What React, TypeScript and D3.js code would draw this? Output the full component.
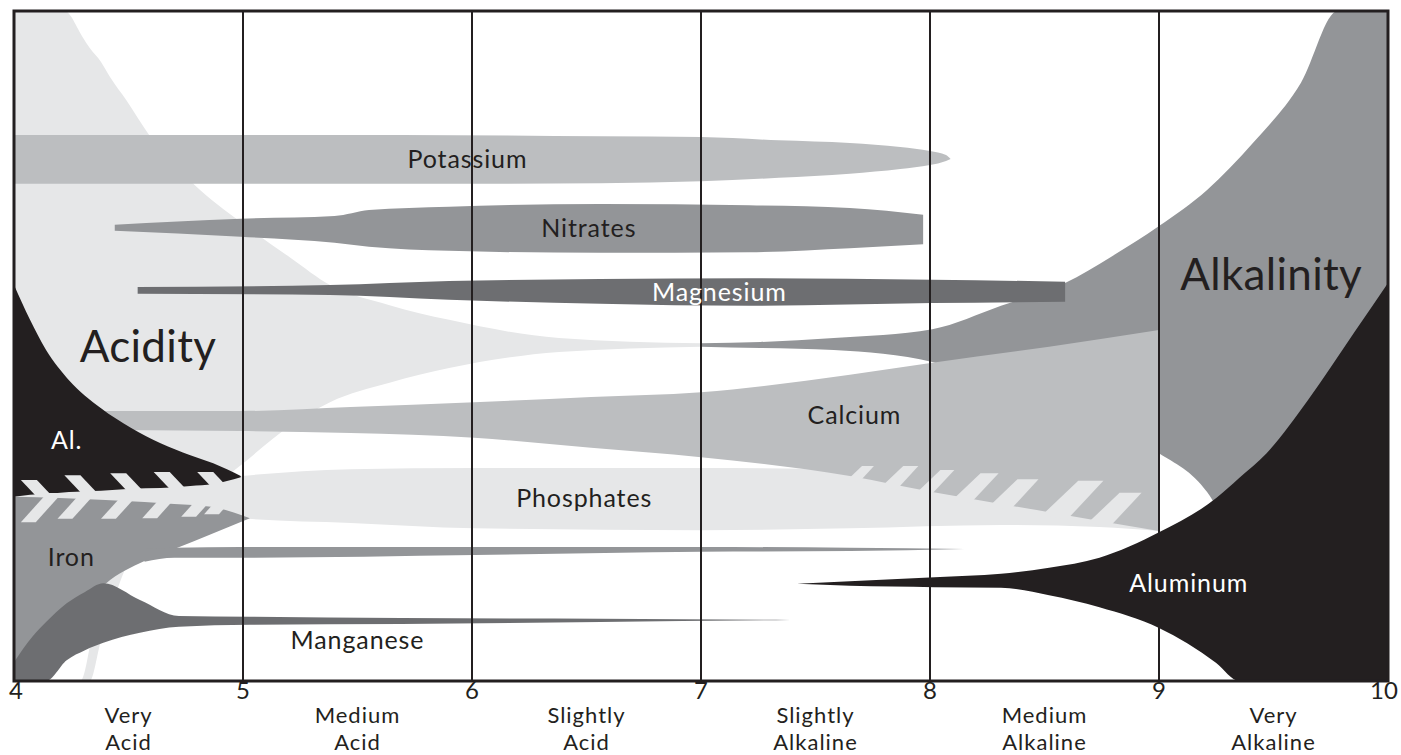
import * as d3 from "d3";

// Soil pH vs nutrient availability. Each band row: [pH, upper edge, lower edge]
// on a 0-100 vertical availability scale (100 = top of chart).
type Row = [number, number, number];

const acidity: Row[] = [
  [4.0, 100, 0], [4.22, 100, 0], [4.3, 96.1, 0], [4.33, 94.5, 0], [4.38, 92.4, 6.1],
  [4.42, 90.1, 10.3], [4.49, 86.7, 17.0], [4.59, 81.5, 20.3], [4.79, 74.0, 26.7],
  [4.99, 68.5, 32.2], [5.21, 63.1, 38.2], [5.38, 59.1, 41.6], [5.64, 56.1, 44.5],
  [5.9, 53.9, 46.7], [6.38, 51.2, 49.1], [7.0, 50.4, 49.9],
];

// white gap under the manganese lobe, bottom-left corner
const acidityGap: Row[] = [
  [4.14, 1, 0], [4.23, 4, 0], [4.29, 5, 0], [4.33, 6, 5.0],
];

const alkalinity: Row[] = [
  [7.0, 50.4, 49.9], [7.26, 50.6, 49.7], [7.58, 51.2, 49.4], [8.01, 52.5, 47.6],
  [8.31, 56.0, 44.2], [8.59, 59.4, 40.4], [8.79, 63.3, 37.5], [9.0, 67.9, 34.0],
  [9.21, 73.3, 28.2], [9.41, 80.3, 15.1], [9.62, 89.3, 0], [9.78, 100, 0], [10.0, 100, 0],
];

const potassium: Row[] = [
  [4.0, 81.5, 74.2], [5.69, 81.5, 74.2], [6.56, 81.3, 74.3], [7.0, 81.2, 74.6],
  [7.34, 80.7, 75.1], [7.65, 80.3, 75.7], [7.87, 79.7, 76.4], [8.0, 79.1, 77.0],
  [8.07, 78.5, 77.6], [8.09, 77.9, 77.9],
];

const nitrates: Row[] = [
  [4.44, 68.1, 67.2], [4.99, 69.0, 66.3], [5.4, 69.4, 65.4], [5.55, 70.3, 64.8],
  [5.9, 70.8, 64.2], [6.56, 71.2, 63.9], [7.21, 71.0, 64.0], [7.65, 70.6, 64.6],
  [7.97, 69.6, 65.2],
];

const magnesium: Row[] = [
  [4.54, 58.8, 57.8], [5.38, 59.1, 57.6], [5.9, 59.7, 56.9], [6.56, 60.0, 56.3],
  [7.21, 60.1, 56.0], [8.01, 59.9, 56.4], [8.59, 59.6, 56.6],
];

const calcium: Row[] = [
  [4.2, 40.3, 37.5], [4.99, 40.3, 37.3], [5.47, 40.9, 37.0], [6.01, 41.6, 36.3],
  [6.52, 42.4, 34.8], [7.0, 43.1, 33.4], [7.65, 45.7, 30.6], [8.01, 47.5, 28.2],
  [8.52, 49.9, 25.2], [9.0, 52.4, 22.4],
];

const phosphates: Row[] = [
  [4.0, 29.3, 27.0], [4.38, 29.3, 26.6], [4.81, 30.0, 25.5], [4.99, 30.6, 24.3],
  [5.47, 31.6, 23.6], [6.01, 31.8, 22.8], [7.0, 31.8, 22.5], [7.65, 31.6, 22.8],
  [8.31, 30.3, 23.3], [8.74, 28.5, 23.0], [9.0, 27.0, 22.4],
];

const aluminumAcid: Row[] = [
  [4.0, 59.1, 27.5], [4.07, 53.9, 27.8], [4.14, 49.4, 27.9], [4.24, 44.9, 28.2],
  [4.38, 40.7, 28.4], [4.51, 37.8, 28.7], [4.64, 35.5, 28.8], [4.77, 33.7, 29.1],
  [4.87, 32.5, 29.4], [4.99, 30.6, 30.4],
];

const iron: Row[] = [
  [4.0, 27.5, 0], [4.2, 27.3, 6.1], [4.4, 27.0, 14.5], [4.57, 26.7, 17.9],
  [4.7, 26.4, 19.7], [4.86, 26.0, 21.9], [5.03, 24.3, 24.3],
];

const ironTail: Row[] = [
  [4.57, 19.7, 17.8], [4.7, 19.9, 18.4], [4.99, 20.0, 18.4], [6.01, 20.0, 18.8],
  [7.0, 20.0, 19.3], [7.65, 19.9, 19.4], [8.15, 19.7, 19.7],
];

const manganese: Row[] = [
  [4.0, 2.8, 0], [4.08, 6.6, 0], [4.14, 8.8, 0], [4.23, 11.6, 3.1], [4.31, 13.3, 4.6],
  [4.39, 14.6, 5.7], [4.55, 12.1, 7.2], [4.72, 9.7, 8.1], [5.03, 9.6, 8.4],
  [5.69, 9.4, 8.5], [6.56, 9.3, 8.8], [7.39, 9.1, 9.1],
];

const aluminumAlk: Row[] = [
  [7.42, 14.5, 14.5], [7.65, 14.9, 14.2], [8.02, 15.5, 14.0], [8.31, 16.0, 13.9],
  [8.52, 16.9, 12.8], [8.74, 18.4, 11.0], [9.0, 22.2, 7.9], [9.25, 27.3, 2.7],
  [9.35, 30.3, 0], [9.47, 34.0, 0], [9.65, 41.9, 0], [9.85, 51.9, 0], [10.0, 59.4, 0],
];

// hatch teeth where phosphates interlock with neighbours
const calciumTeeth: [number, number, number][] = [ // [pH, width, top]
  [7.64, 0.052, 32.1], [7.79, 0.066, 32.1], [7.94, 0.061, 31.5], [8.1, 0.079, 31.0],
  [8.26, 0.092, 30.1], [8.49, 0.11, 29.9], [8.69, 0.096, 28.1],
];
const aluminumTeeth: [number, number][] = [ // [pH, top]
  [4.03, 30.0], [4.22, 30.7], [4.42, 31.0], [4.61, 31.2], [4.8, 31.2],
];
const ironTeeth: [number, number][] = [ // [pH, bottom]
  [4.03, 23.7], [4.19, 24.2], [4.38, 24.2], [4.56, 24.3], [4.73, 24.5], [4.83, 24.9],
];

const pHTicks = [4, 5, 6, 7, 8, 9, 10];
const rangeTop = ["Very", "Medium", "Slightly", "Slightly", "Medium", "Very"];
const rangeBottom = ["Acid", "Acid", "Acid", "Alkaline", "Alkaline", "Alkaline"];

// [text, pH, level, big, white]
const labels: [string, number, number, boolean, boolean][] = [
  ["Potassium", 5.98, 77.8, false, false],
  ["Nitrates", 6.51, 67.6, false, false],
  ["Magnesium", 7.08, 58.0, false, true],
  ["Acidity", 4.585, 49.9, true, false],
  ["Alkalinity", 9.49, 60.6, true, false],
  ["Calcium", 7.67, 39.7, false, false],
  ["Al.", 4.23, 36.0, false, true],
  ["Phosphates", 6.49, 27.3, false, false],
  ["Iron", 4.25, 18.4, false, false],
  ["Manganese", 5.5, 6.1, false, false],
  ["Aluminum", 9.13, 14.6, false, true],
];

const LIGHT = "#e6e7e8";
const MIDLIGHT = "#bcbec0";
const MID = "#939598";
const DARK = "#6d6e71";
const INK = "#231f20";
const FONT = "Lato, 'Open Sans', sans-serif";

export default function App() {
  const width = 1401;
  const height = 755;
  const left = 14, right = 1388, top = 11, bottom = 681;

  const x = d3.scaleLinear().domain([4, 10]).range([left, right]);
  const y = d3.scaleLinear().domain([0, 100]).range([bottom, top]);

  const area = d3.area<Row>()
    .x(d => x(d[0]))
    .y0(d => y(d[2]))
    .y1(d => y(d[1]))
    .curve(d3.curveMonotoneX);

  // piecewise edges, used to seat the hatch teeth on a band edge
  const edge = (rows: Row[], i: 1 | 2) =>
    d3.scaleLinear().domain(rows.map(r => r[0])).range(rows.map(r => y(r[i])));

  const calBottom = edge(calcium, 2);
  const alBottom = edge(aluminumAcid, 2);
  const ironTop = edge(iron, 1);

  const calTeethPaths = calciumTeeth.map(([p, w, t]) => {
    const xl = x(p), xr = x(p + w);
    const bl = calBottom(p) + 4, br = calBottom(p + w) + 4;
    const yt = y(t);
    const dx = (bl - yt) * 1.05;
    return `M${xl},${bl}L${xr},${br}L${xr + dx},${yt}L${xl + dx},${yt}Z`;
  });

  const alTeethPaths = aluminumTeeth.map(([p, t]) => {
    const xl = x(p), xr = x(p + 0.07);
    const yt = y(t);
    const yb = alBottom(p) + 4;
    const dx = (yb - yt) * 0.95;
    return `M${xl},${yt}L${xr},${yt}L${xr + dx},${yb}L${xl + dx},${yb}Z`;
  });

  const ironTeethPaths = ironTeeth.map(([p, b]) => {
    const xl = x(p), xr = x(p + 0.065);
    const yb = y(b);
    const yt = ironTop(p) - 4;
    const dx = (yb - yt) * 0.9;
    return `M${xl},${yb}L${xr},${yb}L${xr + dx},${yt}L${xl + dx},${yt}Z`;
  });

  const bands: [Row[], string][] = [
    [acidity, LIGHT],
    [acidityGap, "#fff"],
    [alkalinity, MID],
    [potassium, MIDLIGHT],
    [nitrates, MID],
    [magnesium, DARK],
    [phosphates, LIGHT],
    [calcium, MIDLIGHT],
  ];

  return (
    <svg
      width={width}
      height={height}
      style={{ position: "absolute", left: 0, top: 0, background: "#fff" }}
      fontFamily={FONT}
    >
      <defs>
        <clipPath id="plot-clip">
          <rect x={left} y={top} width={right - left} height={bottom - top} />
        </clipPath>
      </defs>

      <g clipPath="url(#plot-clip)">
        {bands.map(([rows, fill], i) => (
          <path key={i} d={area(rows) ?? ""} fill={fill} />
        ))}
        {calTeethPaths.map((d, i) => <path key={`ct${i}`} d={d} fill={LIGHT} />)}

        <path d={area(aluminumAcid) ?? ""} fill={INK} />
        {alTeethPaths.map((d, i) => <path key={`at${i}`} d={d} fill={LIGHT} />)}

        <path d={area(iron) ?? ""} fill={MID} />
        <path d={area(ironTail) ?? ""} fill={MID} />
        {ironTeethPaths.map((d, i) => <path key={`it${i}`} d={d} fill={LIGHT} />)}

        <path d={area(manganese) ?? ""} fill={DARK} />
        <path d={area(aluminumAlk) ?? ""} fill={INK} />
      </g>

      {/* pH dividers */}
      {pHTicks.slice(1, -1).map(t => (
        <line key={t} x1={x(t)} x2={x(t)} y1={top} y2={bottom} stroke={INK} strokeWidth={2} />
      ))}
      <rect x={left} y={top} width={right - left} height={bottom - top}
        fill="none" stroke={INK} strokeWidth={3} />

      {labels.map(([text, p, v, big, white]) => (
        <text key={text} x={x(p)} y={y(v)} dy="0.35em" textAnchor="middle"
          fontSize={big ? 44 : 25} letterSpacing={big ? 0.3 : 0.9}
          fill={white ? "#fff" : INK}>
          {text}
        </text>
      ))}

      {/* pH scale */}
      {pHTicks.map(t => (
        <text key={t} x={x(t) + (t === 4 ? 2 : t === 10 ? -4 : 0)} y={bottom + 10} dy="0.35em"
          textAnchor="middle" fontSize={24} fill={INK}>
          {t}
        </text>
      ))}
      {rangeTop.map((a, i) => (
        <text key={`a${i}`} x={x(4.5 + i)} y={bottom + 42} textAnchor="middle"
          fontSize={22} letterSpacing={1} fill={INK}>
          {a}
        </text>
      ))}
      {rangeBottom.map((b, i) => (
        <text key={`b${i}`} x={x(4.5 + i)} y={bottom + 69} textAnchor="middle"
          fontSize={22} letterSpacing={1} fill={INK}>
          {b}
        </text>
      ))}
    </svg>
  );
}
